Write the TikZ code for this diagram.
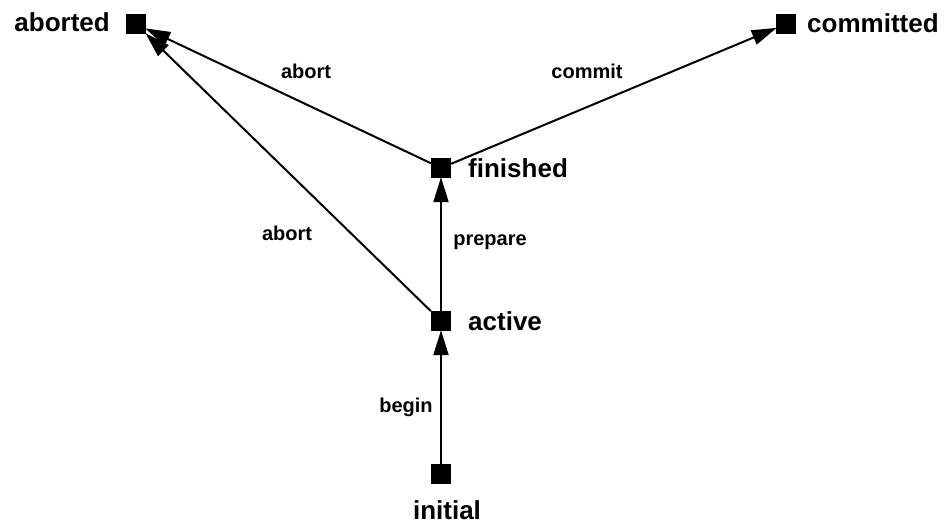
\documentclass[tikz,border=0pt]{standalone}
\usepackage{fontspec}
\setmainfont{Liberation Sans}
\usetikzlibrary{arrows.meta}
\begin{document}
\begin{tikzpicture}[x=1pt,y=-1pt,
  state/.style={fill=black,draw=none,inner sep=0pt,minimum size=20pt},
  statelabel/.style={font=\fontsize{26}{30}\selectfont\bfseries,inner sep=0pt},
  edgelabel/.style={font=\fontsize{20}{24}\selectfont\bfseries,inner sep=0pt},
  trans/.style={line width=2pt,-{Triangle[length=25pt,width=15pt]},shorten >=-1pt}]
\useasboundingbox (0,0) rectangle (950,524);

% states
\node[state] (aborted)   at (136,24)  {};
\node[state] (committed) at (786,24)  {};
\node[state] (finished)  at (441,168) {};
\node[state] (active)    at (441,321) {};
\node[state] (initial)   at (441,474) {};

% state names
\node[statelabel,anchor=east] (laborted)   at (110,22)  {aborted};
\node[statelabel,anchor=west] (lcommitted) at (807,23)  {committed};
\node[statelabel,anchor=west] (lfinished)  at (468,168) {finished};
\node[statelabel,anchor=west] (lactive)    at (468,321) {active};
\node[statelabel]             (linitial)   at (447,510) {initial};

% transitions
\draw[trans] (initial)  -- (active);
\draw[trans] (active)   -- (finished);
\draw[trans] (active)   -- (aborted);
\draw[trans] (finished) -- (aborted);
\draw[trans] (finished) -- (committed);

% transition names
\node[edgelabel] (eabort1)  at (306,71)  {abort};
\node[edgelabel] (ecommit)  at (587,71)  {commit};
\node[edgelabel] (eabort2)  at (287,233) {abort};
\node[edgelabel] (eprepare) at (490,242) {prepare};
\node[edgelabel] (ebegin)   at (406,407) {begin};
\end{tikzpicture}
\end{document}
